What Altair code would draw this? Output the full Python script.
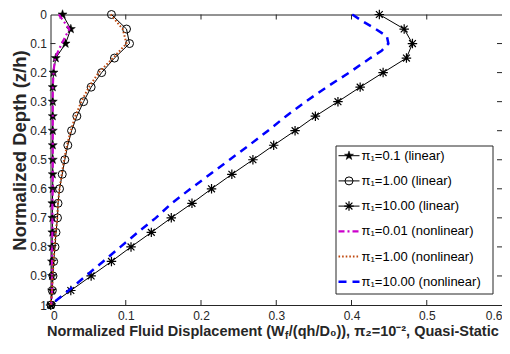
import math
import altair as alt
import pandas as pd

# ---------------- data ----------------
z_vals = [0.0, 0.05, 0.1, 0.15, 0.2, 0.25, 0.3, 0.35, 0.4, 0.45, 0.5,
          0.55, 0.6, 0.65, 0.7, 0.75, 0.8, 0.85, 0.9, 0.95, 1.0]
pi01_lin = [0.016, 0.027, 0.020, 0.007, 0.004, 0.003, 0.003, 0.003, 0.003, 0.003, 0.003,
            0.003, 0.003, 0.0025, 0.0025, 0.0025, 0.002, 0.002, 0.002, 0.002, 0.001]
pi1_lin = [0.081, 0.101, 0.105, 0.085, 0.068, 0.054, 0.044, 0.035, 0.028, 0.023, 0.019,
           0.0156, 0.012, 0.010, 0.0093, 0.0073, 0.006, 0.0042, 0.0033, 0.0024, 0.0007]
pi10_lin = [0.437, 0.470, 0.481, 0.473, 0.442, 0.4115, 0.382, 0.352, 0.325, 0.2966, 0.269,
            0.241, 0.214, 0.188, 0.1605, 0.134, 0.107, 0.081, 0.054, 0.027, 0.0]
pi001_nl = [0.011, 0.025, 0.015, 0.006, 0.004, 0.003, 0.003, 0.003, 0.003, 0.003, 0.003,
            0.003, 0.003, 0.0025, 0.0025, 0.0025, 0.002, 0.002, 0.002, 0.002, 0.001]
pi1_nl = [0.080, 0.096, 0.101, 0.083, 0.064, 0.051, 0.041, 0.033, 0.027, 0.022, 0.018,
          0.015, 0.012, 0.010, 0.009, 0.007, 0.0055, 0.004, 0.003, 0.002, 0.0]
z_fine = [0.0, 0.025, 0.05, 0.075, 0.1, 0.125, 0.15, 0.2, 0.25, 0.3, 0.35, 0.4, 0.45,
          0.5, 0.55, 0.6, 0.65, 0.7, 0.75, 0.8, 0.85, 0.9, 0.95, 1.0]
pi10_nl = [0.401, 0.416, 0.432, 0.447, 0.449, 0.440, 0.425, 0.397, 0.367, 0.339, 0.313,
           0.289, 0.264, 0.238, 0.212, 0.186, 0.161, 0.140, 0.116, 0.093, 0.070, 0.047,
           0.024, 0.0]

x_ticks = [0.0, 0.1, 0.2, 0.3, 0.4, 0.5, 0.6]
y_ticks = [0.0, 0.1, 0.2, 0.3, 0.4, 0.5, 0.6, 0.7, 0.8, 0.9, 1.0]
legend_labels = ["π₁=0.1 (linear)", "π₁=1.00 (linear)", "π₁=10.00 (linear)",
                 "π₁=0.01 (nonlinear)", "π₁=1.00 (nonlinear)", "π₁=10.00 (nonlinear)"]

# ---------------- layout / style ----------------
PL, PT = 42.5, 6.5        # plot origin = (8+PL, 8+PT) on the page
W, H = 451.5, 290.5
SVG_W, SVG_H = 494, 332
AX = "#262626"
MAG = "#cc00cc"
BRN = "#c04a10"
BLU = "#0000ff"

xs = alt.Scale(domain=[0, 0.6], nice=False, zero=False)
ys = alt.Scale(domain=[0, 1], nice=False, zero=False, reverse=True)
xaxis = alt.Axis(values=x_ticks, format=".1~f", title=None, grid=False, ticks=False,
                 domain=False, labelFontSize=12, labelColor=AX, labelPadding=5,
                 labelFont="Liberation Sans")
yaxis = alt.Axis(values=y_ticks, format=".1~f", title="Normalized Depth (z/h)", grid=False,
                 ticks=False, domain=False, labelFontSize=12, labelColor=AX, labelPadding=4,
                 labelFont="Liberation Sans", titleFont="Liberation Sans",
                 titleFontSize=18.5, titleFontWeight="bold", titleColor=AX,
                 titleX=-25.5, titleY=135.5, titleAlign="center",
                 titleBaseline="alphabetic", titleAngle=270)

# star and asterisk marker paths (unit box)
star_pts = []
for k in range(10):
    r = 1.0 if k % 2 == 0 else 0.40
    a = -math.pi / 2 + k * math.pi / 5
    star_pts.append(f"{r * math.cos(a):.3f},{r * math.sin(a):.3f}")
STAR = "M" + "L".join(star_pts) + "Z"
AST = "M-1,0L1,0M0,-1L0,1M-0.72,-0.72L0.72,0.72M-0.72,0.72L0.72,-0.72"


def frame(zl, xl):
    return pd.DataFrame({"z": zl, "xv": xl})


def enc(ch):
    return ch.encode(x=alt.X("xv:Q", scale=xs, axis=xaxis),
                     y=alt.Y("z:Q", scale=ys, axis=yaxis),
                     order=alt.Order("z:Q"))


d01 = frame(z_vals, pi01_lin)
d1 = frame(z_vals, pi1_lin)
d10 = frame(z_vals, pi10_lin)
n001 = frame(z_vals, pi001_nl)
n1 = frame(z_vals, pi1_nl)
n10 = frame(z_fine, pi10_nl)

layers = []
# linear series (black, with markers)
layers.append(enc(alt.Chart(d01).mark_line(color="black", strokeWidth=1)))
layers.append(enc(alt.Chart(d01).mark_point(shape=STAR, size=90, filled=True, fill="black",
                                            stroke="black", strokeWidth=0.5, opacity=1)))
layers.append(enc(alt.Chart(d1).mark_line(color="black", strokeWidth=1)))
layers.append(enc(alt.Chart(d1).mark_point(shape="circle", size=64, filled=False,
                                           stroke="black", strokeWidth=1, opacity=1)))
layers.append(enc(alt.Chart(d10).mark_line(color="black", strokeWidth=1)))
layers.append(enc(alt.Chart(d10).mark_point(shape=AST, size=90, filled=False,
                                            stroke="black", strokeWidth=1.2, opacity=1)))
# nonlinear series
layers.append(enc(alt.Chart(n001).mark_line(color=MAG, strokeWidth=2.2,
                                            strokeDash=[6, 3, 2, 3])))
layers.append(enc(alt.Chart(n1).mark_line(color=BRN, strokeWidth=2, strokeDash=[1.6, 2])))
layers.append(enc(alt.Chart(n10).mark_line(color=BLU, strokeWidth=2.5, strokeDash=[8, 6])))

# inward tick marks (MATLAB box style)
xt = pd.DataFrame({"xv": x_ticks[1:-1]})
yt = pd.DataFrame({"z": y_ticks[1:-1]})
layers.append(alt.Chart(xt).mark_rule(color=AX, strokeWidth=1).encode(
    x=alt.X("xv:Q", scale=xs, axis=xaxis), y=alt.value(H), y2=alt.value(H - 5)))
layers.append(alt.Chart(xt).mark_rule(color=AX, strokeWidth=1).encode(
    x=alt.X("xv:Q", scale=xs, axis=xaxis), y=alt.value(0), y2=alt.value(5)))
layers.append(alt.Chart(yt).mark_rule(color=AX, strokeWidth=1).encode(
    y=alt.Y("z:Q", scale=ys, axis=yaxis), x=alt.value(0), x2=alt.value(5)))
layers.append(alt.Chart(yt).mark_rule(color=AX, strokeWidth=1).encode(
    y=alt.Y("z:Q", scale=ys, axis=yaxis), x=alt.value(W), x2=alt.value(W - 5)))

# ---------------- legend ----------------
one = pd.DataFrame({"a": [0]})
LX0, LX1, LY0, LY1 = 285.5, 442.5, 131.5, 279.5
layers.append(alt.Chart(one).mark_rect(fill="white", stroke=AX, strokeWidth=1).encode(
    x=alt.value(LX0), x2=alt.value(LX1), y=alt.value(LY0), y2=alt.value(LY1)))
row_y0, row_dy = 141.2, 25.2
styles = [
    dict(color="black", width=1, dash=None, marker="star"),
    dict(color="black", width=1, dash=None, marker="circle"),
    dict(color="black", width=1, dash=None, marker="ast"),
    dict(color=MAG, width=2.2, dash=[6, 3, 2, 3], marker=None),
    dict(color=BRN, width=2, dash=[1.6, 2], marker=None),
    dict(color=BLU, width=2.5, dash=[8, 6], marker=None),
]
for i, (lab, st) in enumerate(zip(legend_labels, styles)):
    yy = row_y0 + i * row_dy
    kw = dict(color=st["color"], strokeWidth=st["width"])
    if st["dash"]:
        kw["strokeDash"] = st["dash"]
    layers.append(alt.Chart(one).mark_rule(**kw).encode(
        x=alt.value(LX0 + 2.5), x2=alt.value(LX0 + 23.5), y=alt.value(yy)))
    m = st["marker"]
    if m:
        if m == "star":
            mk = alt.Chart(one).mark_point(shape=STAR, size=90, filled=True, fill="black",
                                           stroke="black", strokeWidth=0.5, opacity=1)
        elif m == "circle":
            mk = alt.Chart(one).mark_point(shape="circle", size=64, filled=False,
                                           stroke="black", strokeWidth=1, opacity=1)
        else:
            mk = alt.Chart(one).mark_point(shape=AST, size=90, filled=False,
                                           stroke="black", strokeWidth=1.2, opacity=1)
        layers.append(mk.encode(x=alt.value(LX0 + 13), y=alt.value(yy)))
    layers.append(alt.Chart(one).mark_text(
        text=lab, align="left", baseline="middle", font="Liberation Sans",
        fontSize=13, color="black").encode(x=alt.value(LX0 + 25.5), y=alt.value(yy)))

# ---------------- x-axis title (with subscript f) ----------------
F = 14.5
part1 = "Normalized Fluid Displacement (W"
part2 = "/(qh/D₀)), π₂=10⁻², Quasi-Static"
x_start = -3.5
p1w = 16.388 * F
ty = H + 31
layers.append(alt.Chart(one).mark_text(
    text=part1, align="left", baseline="alphabetic", font="Liberation Sans",
    fontSize=F, fontWeight="bold", color=AX).encode(x=alt.value(x_start), y=alt.value(ty)))
layers.append(alt.Chart(one).mark_text(
    text="f", align="left", baseline="alphabetic", font="Liberation Sans",
    fontSize=F * 0.7, fontWeight="bold", color=AX).encode(
    x=alt.value(x_start + p1w + 0.3), y=alt.value(ty + 3)))
layers.append(alt.Chart(one).mark_text(
    text=part2, align="left", baseline="alphabetic", font="Liberation Sans",
    fontSize=F, fontWeight="bold", color=AX).encode(
    x=alt.value(x_start + p1w + 0.333 * F * 0.7 + 0.8), y=alt.value(ty)))

chart = alt.layer(*layers).properties(
    width=W, height=H,
    autosize=alt.AutoSizeParams(type="none"),
    padding={"left": PL, "top": PT, "right": SVG_W - PL - W, "bottom": SVG_H - PT - H},
    background="white",
).configure_view(stroke=AX, strokeWidth=1)

chart.save("out.html", embed_options={"renderer": "svg", "actions": False})
